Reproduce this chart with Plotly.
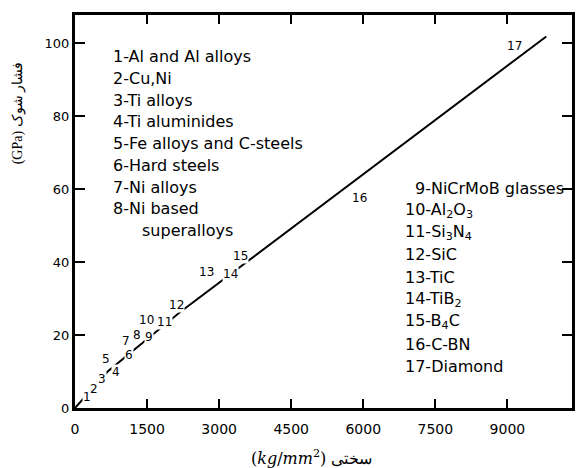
import plotly.graph_objects as go

# Fitted trend: shock pressure vs. hardness
fit_hardness = [0, 680, 2190, 9810]          # kg/mm^2
fit_pressure = [0, 10.0, 26.3, 101.8]        # GPa

# Numbered materials placed along the trend (hardness kg/mm^2, pressure GPa)
mat_ids = [str(i) for i in range(1, 18)]
mat_hardness = [250, 400, 570, 860, 640, 1120, 1055, 1300, 1535, 1480,
                1870, 2120, 2745, 3230, 3435, 5915, 9155]
mat_pressure = [3.0, 5.2, 8.0, 9.8, 13.5, 14.6, 18.4, 20.1, 19.5, 24.0,
                23.6, 28.3, 37.3, 36.8, 41.7, 57.5, 99.3]

# Key of material names
key_left = ["1-Al and Al alloys", "2-Cu,Ni", "3-Ti alloys", "4-Ti aluminides",
            "5-Fe alloys and C-steels", "6-Hard steels", "7-Ni alloys",
            "8-Ni based"]
key_left_cont = "superalloys"
key_right = ["9-NiCrMoB glasses", "10-Al<sub>2</sub>O<sub>3</sub>",
             "11-Si<sub>3</sub>N<sub>4</sub>", "12-SiC", "13-TiC",
             "14-TiB<sub>2</sub>", "15-B<sub>4</sub>C", "16-C-BN",
             "17-Diamond"]

x_ticks = [0, 1500, 3000, 4500, 6000, 7500, 9000]
y_ticks = [0, 20, 40, 60, 80, 100]

W, H = 576, 468
ML, MR, MT, MB = 75, 1, 15, 60
FONT = "DejaVu Sans"


def px(xp, yp):
    """Pixel position -> paper coordinates."""
    return (xp - ML) / (W - ML - MR), (H - MB - yp) / (H - MT - MB)


fig = go.Figure()
fig.add_trace(go.Scatter(x=fit_hardness, y=fit_pressure, mode="lines",
                         line=dict(color="black", width=2),
                         hoverinfo="skip", showlegend=False))

annotations = []
for t, hx, py_ in zip(mat_ids, mat_hardness, mat_pressure):
    annotations.append(dict(x=hx, y=py_, xref="x", yref="y", text=t,
                            showarrow=False, bgcolor="white", borderpad=0,
                            font=dict(family=FONT, size=12, color="black")))

for i, t in enumerate(key_left):
    xp, yp = px(111, 56.7 + i * 21.75)
    annotations.append(dict(x=xp, y=yp, xref="paper", yref="paper", text=t,
                            xanchor="left", yanchor="middle", showarrow=False,
                            font=dict(family=FONT, size=16, color="black")))
xp, yp = px(140, 56.7 + 8 * 21.75)
annotations.append(dict(x=xp, y=yp, xref="paper", yref="paper",
                        text=key_left_cont, xanchor="left", yanchor="middle",
                        showarrow=False,
                        font=dict(family=FONT, size=16, color="black")))

for i, t in enumerate(key_right):
    left = 415 if i == 0 else 405
    xp, yp = px(left, 188 + i * 22.3)
    annotations.append(dict(x=xp, y=yp, xref="paper", yref="paper", text=t,
                            xanchor="left", yanchor="middle", showarrow=False,
                            font=dict(family=FONT, size=16, color="black")))

# Axis titles
xp, yp = px(313, 457)
annotations.append(dict(x=xp, y=yp, xref="paper", yref="paper",
                        text="(<i>kg</i>/<i>mm</i><sup>2</sup>) سختی",
                        showarrow=False, xanchor="center", yanchor="middle",
                        font=dict(family="DejaVu Serif", size=16, color="black")))
xp, yp = px(18, 113)
annotations.append(dict(x=xp, y=yp, xref="paper", yref="paper",
                        text="(GPa) فشار شوک", textangle=-90,
                        showarrow=False, xanchor="center", yanchor="middle",
                        font=dict(family="Liberation Serif", size=14, color="black")))

axis_common = dict(showline=True, linewidth=3, linecolor="black",
                   mirror="ticks", ticks="inside", tickwidth=2,
                   tickcolor="black", showgrid=False, zeroline=False,
                   fixedrange=True)

fig.update_layout(
    width=W, height=H,
    margin=dict(l=ML, r=MR, t=MT, b=MB),
    paper_bgcolor="white", plot_bgcolor="white",
    xaxis=dict(range=[0, 10345], tickvals=x_ticks, ticklen=9,
               ticktext=[str(v) for v in x_ticks], ticklabelstandoff=6,
               tickfont=dict(family=FONT, size=14, color="black"),
               **axis_common),
    yaxis=dict(range=[0, 107.7], tickvals=y_ticks, ticklen=10,
               tickfont=dict(family=FONT, size=13, color="black"),
               **axis_common),
    annotations=annotations,
)

fig.write_html("out.html")
